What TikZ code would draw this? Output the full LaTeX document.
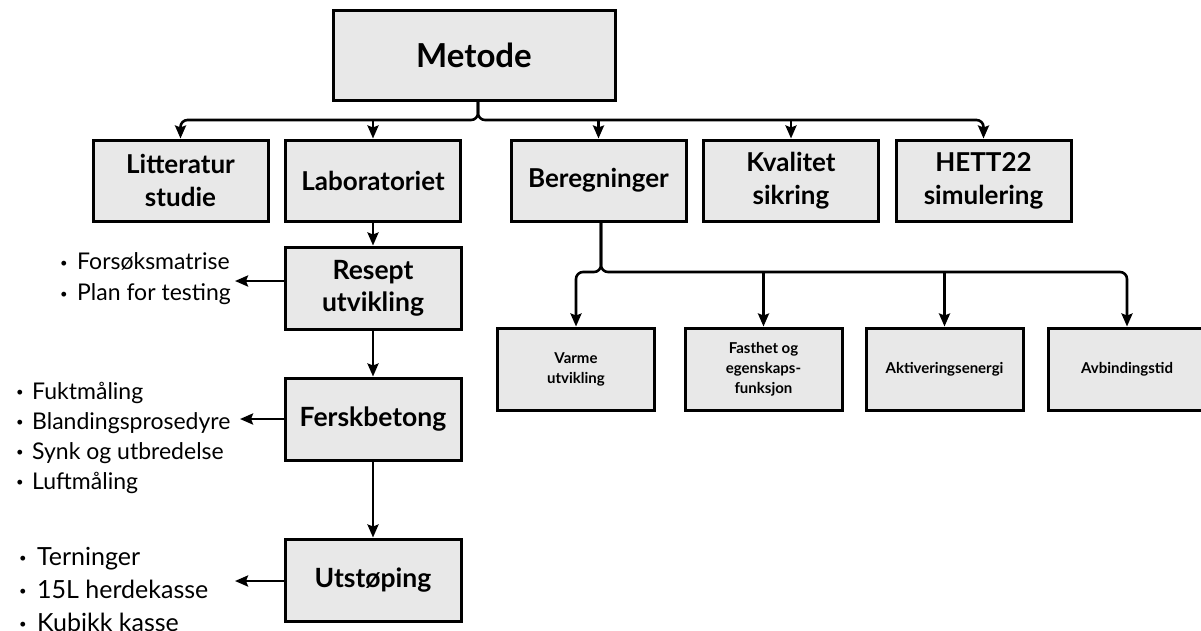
\documentclass[tikz,border=0pt]{standalone}
\usepackage{fontspec}
\setmainfont{Lato}
\usetikzlibrary{arrows.meta,calc}
\definecolor{boxgray}{HTML}{E8E8E8}
\newcommand{\blt}[1]{\makebox[#1][l]{\fontsize{13}{13}\selectfont\raisebox{0.35ex}{•}}}
\begin{document}
\begin{tikzpicture}[x=1pt,y=-1pt,
  box/.style={draw=black,fill=boxgray,line width=3pt,align=center,inner sep=0pt},
  topbox/.style={box,minimum width=175pt,minimum height=81pt,font=\bfseries\fontsize{26}{33}\selectfont},
  chainbox/.style={box,minimum width=176pt,minimum height=82pt,font=\bfseries\fontsize{26.5}{32}\selectfont},
  subbox/.style={box,minimum width=157pt,minimum height=82pt,font=\bfseries\fontsize{15}{20}\selectfont},
  conn/.style={line width=2.6pt,-{Stealth[length=13pt,width=11pt,inset=2pt]}},
  brace/.style={conn,rounded corners=7pt},
  blist/.style={anchor=west,align=left,inner sep=0pt}]
\useasboundingbox (0,0) rectangle (1201,630);

% main node
\node[box,minimum width=282pt,minimum height=90pt,font=\bfseries\fontsize{33}{36}\selectfont] (metode) at (474,55) {Metode};

% top level
\node[topbox] (lit)  at (180.5,180.5) {Litteratur\\studie};
\node[topbox] (lab)  at (373,180.5)   {Laboratoriet};
\node[topbox] (ber)  at (598.5,180.5) {Beregninger};
\node[topbox] (kval) at (791,180.5)   {Kvalitet\\sikring};
\node[topbox] (hett) at (983.5,180.5) {HETT22\\simulering};

% chain under Laboratoriet
\node[chainbox] (res)  at (373,288) {Resept\\utvikling};
\node[chainbox] (fers) at (373,419) {Ferskbetong};
\node[chainbox] (utst) at (373,580) {Utstøping};

% sub nodes under Beregninger
\node[subbox] (varme) at (576,369)    {Varme\\utvikling};
\node[subbox] (fast)  at (763.5,369)  {Fasthet og\\egenskaps-\\funksjon};
\node[subbox] (akt)   at (944.5,369)  {Aktiveringsenergi};
\node[subbox] (avb)   at (1127,369)   {Avbindingstid};

% bullet lists
\node[blist,font=\fontsize{23}{31}\selectfont] (list1) at (60,278.5)
  {\blt{17pt}Forsøksmatrise\\\blt{17pt}Plan for testing};
\node[blist,font=\fontsize{23}{30}\selectfont] (list2) at (16,437.5)
  {\blt{16pt}Fuktmåling\\\blt{16pt}Blandingsprosedyre\\\blt{16pt}Synk og utbredelse\\\blt{16pt}Luftmåling};
\node[blist,font=\fontsize{25}{33}\selectfont] (list3) at (19,589)
  {\blt{18pt}Terninger\\\blt{18pt}15L herdekasse\\\blt{18pt}Kubikk kasse};

% coordinates for connector junctions and free ends
\coordinate (mstem) at (478,100);
\coordinate (bar) at (478,120);
\coordinate (bstem) at (601,221);
\coordinate (subbar) at (601,272);
\coordinate (t1) at (235,281);
\coordinate (t2) at (240,419);
\coordinate (t3) at (235,581);

% connectors from Metode
\draw[brace] (mstem) -- (bar) -- (lit.north |- bar) -- (lit.north);
\draw[brace] (mstem) -- (bar) -- (hett.north |- bar) -- (hett.north);
\draw[conn] (lab.north |- bar) -- (lab.north);
\draw[conn] (ber.north |- bar) -- (ber.north);
\draw[conn] (kval.north |- bar) -- (kval.north);

% chain
\draw[conn] (lab.south) -- (res.north);
\draw[conn] (res.south) -- (fers.north);
\draw[conn] (fers.south) -- (utst.north);

% side arrows
\draw[conn] (res.west |- t1) -- (t1);
\draw[conn] (fers.west |- t2) -- (t2);
\draw[conn] (utst.west |- t3) -- (t3);

% connectors from Beregninger
\draw[brace] (bstem) -- (subbar) -- (varme.north |- subbar) -- (varme.north);
\draw[brace] (bstem) -- (subbar) -- (avb.north |- subbar) -- (avb.north);
\draw[conn] (fast.north |- subbar) -- (fast.north);
\draw[conn] (akt.north |- subbar) -- (akt.north);
\end{tikzpicture}
\end{document}
